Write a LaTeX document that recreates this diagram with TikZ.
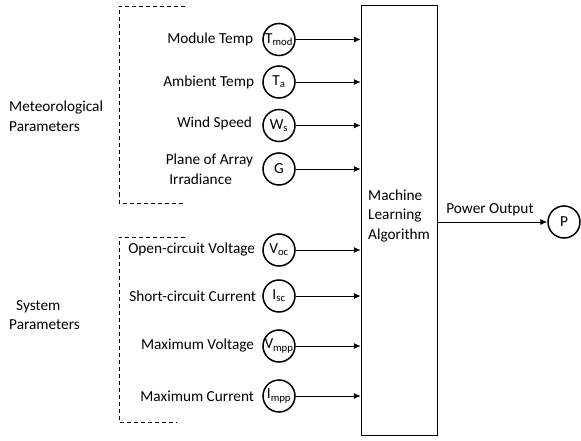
\documentclass[tikz,border=0pt]{standalone}
\usepackage{fontspec}
\setmainfont{Carlito}
\usetikzlibrary{arrows.meta}
\begin{document}
\begin{tikzpicture}[x=1pt,y=-1pt,
  every node/.style={font=\fontsize{15.3}{19.5}\selectfont, inner sep=0pt},
  var/.style={circle, draw, line width=1.5pt, minimum size=32pt, inner sep=0pt},
  lbl/.style={anchor=east},
  feed/.style={-{Latex[length=7pt,width=6pt]}, line width=0.9pt},
  group/.style={dash pattern=on 4pt off 3pt, line width=0.7pt}]
\useasboundingbox (0,0) rectangle (581,441);

% central block
\node[draw, line width=1.5pt, minimum width=76pt, minimum height=430pt] (ml) at (399.5,220.5) {};
\node[align=left, anchor=west] (mltext) at (368,216) {Machine\\Learning\\Algorithm};

% meteorological inputs
\node[var] (tmod) at (279,39.5) {T\textsubscript{mod}};
\node[var] (ta)   at (279,82)   {T\textsubscript{a}};
\node[var] (ws)   at (279,125.5){W\textsubscript{s}};
\node[var] (g)    at (279,169)  {G};

% system inputs
\node[var] (voc)  at (279,250)  {V\textsubscript{oc}};
\node[var] (isc)  at (279,296)  {I\textsubscript{sc}};
\node[var] (vmpp) at (279,346)  {V\textsubscript{mpp}};
\node[var] (impp) at (279,396)  {I\textsubscript{mpp}};

% input labels
\node[lbl] (ltmod) at ([xshift=-9pt]tmod.west) {Module Temp};
\node[lbl] (lta)   at ([xshift=-8pt]ta.west)   {Ambient Temp};
\node[lbl] (lws)   at ([xshift=-10pt,yshift=2pt]ws.west) {Wind Speed};
\node[lbl, align=left] (lg) at ([xshift=-9pt]g.west) {Plane of Array\\\hspace{3.5pt}Irradiance};
\node[lbl] (lvoc)  at ([xshift=-7pt]voc.west)  {Open-circuit Voltage};
\node[lbl] (lisc)  at ([xshift=-6pt]isc.west)  {Short-circuit Current};
\node[lbl] (lvmpp) at ([xshift=-8pt]vmpp.west) {Maximum Voltage};
\node[lbl] (limpp) at ([xshift=-8pt]impp.west) {Maximum Current};

% feeds into the block
\foreach \v in {tmod,ta,ws,g,voc,isc,vmpp,impp}
  \draw[feed] (\v) -- (\v -| ml.west);

% output
\node[var] (p) at (564,222) {P};
\draw[feed] (ml.east |- p) -- (p);
\node (pout) at (490,210) {Power Output};

% parameter groups
\coordinate (m1) at (185,6.5);
\coordinate (m2) at (119,6.5);
\coordinate (m3) at (119,203);
\coordinate (m4) at (185,203);
\draw[group] (m1) -- (m2) -- (m3) -- (m4);
\coordinate (s1) at (185,237);
\coordinate (s2) at (119,237);
\coordinate (s3) at (119,422);
\coordinate (s4) at (177,422);
\draw[group] (s1) -- (s2) -- (s3) -- (s4);

\node[align=left, anchor=west] (meteo) at (9,116) {Meteorological\\Parameters};
\node[align=left, anchor=west] (sys) at (9,315) {\hspace{7pt}System\\Parameters};
\end{tikzpicture}
\end{document}
